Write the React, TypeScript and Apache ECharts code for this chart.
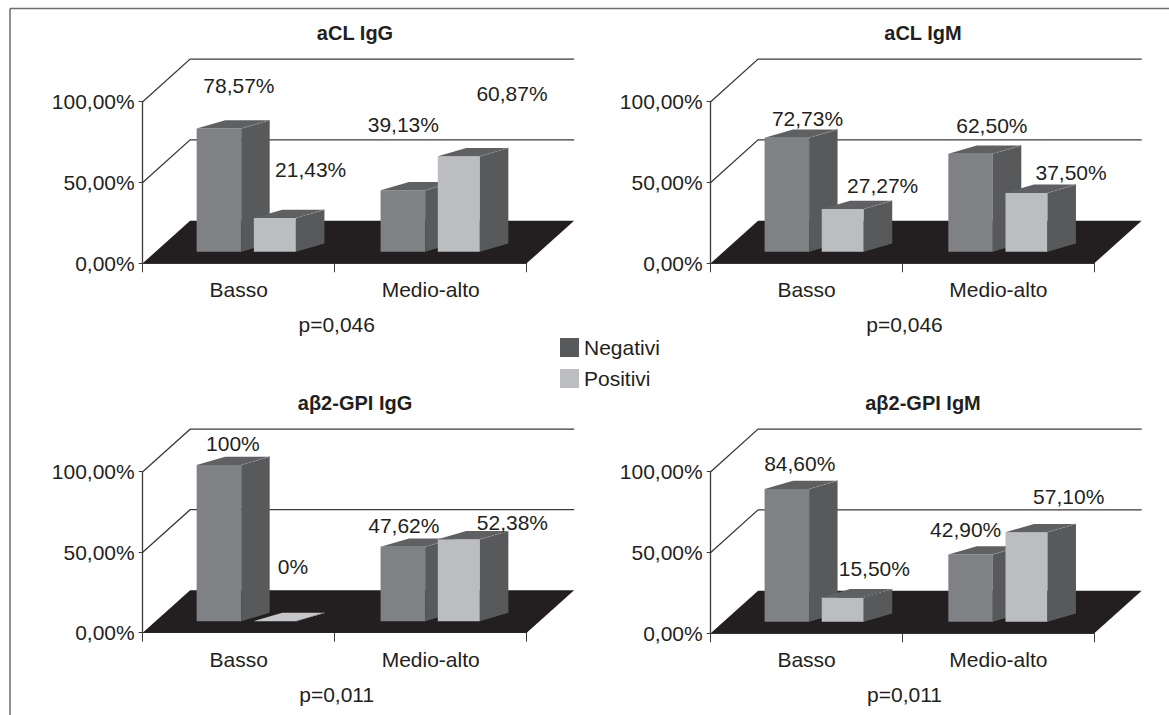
import React, { useEffect, useRef } from 'react';
import * as echarts from 'echarts';

// ---------- data ----------
const CATEGORIES = ['Basso', 'Medio-alto'];
const SERIES_NAMES = ['Negativi', 'Positivi'];
const PANEL_TITLES = ['aCL IgG', 'aCL IgM', 'aβ2-GPI IgG', 'aβ2-GPI IgM'];
const P_VALUES = ['p=0,046', 'p=0,046', 'p=0,011', 'p=0,011'];
const NEGATIVI = [
  [78.57, 39.13],
  [72.73, 62.5],
  [100, 47.62],
  [84.6, 42.9],
];
const POSITIVI = [
  [21.43, 60.87],
  [27.27, 37.5],
  [0, 52.38],
  [15.5, 57.1],
];
const Y_MIN = 0;
const Y_MAX = 100;
const Y_STEP = 50;

// ---------- layout / style ----------
const FONT = '"Liberation Sans", Arial, Helvetica, sans-serif';
const FS = 21;
const TEXT = '#231f20';
const AXIS = '#3a3a3a';
const FLOOR = '#231f20';
const FRONT = ['#808184', '#bcbdc0'];
const SIDE = '#58595b';
const TOPC = '#5f6062';
const LEGEND_COLORS = ['#58595b', '#bcbdc0'];

const PANELS = [
  { left: 142.7, top: 101.7, width: 384, height: 161.6 },
  { left: 710.7, top: 101.7, width: 383.6, height: 161.6 },
  { left: 142.7, top: 471.7, width: 384, height: 161 },
  { left: 710.7, top: 471.7, width: 383.6, height: 161.6 },
];

// label offsets [panel][series][category] = [dx, dy] from bar front-top centre
const LABEL_OFFSETS = [
  [[[20, -43.5], [0.5, -65.4]], [[35.8, -49.1], [53.2, -63]]],
  [[[20.7, -19.4], [21.3, -28.7]], [[39.9, -23.3], [44.6, -20.2]]],
  [[[14, -21.1], [1, -20.8]], [[18.1, -54.4], [53.6, -16.5]]],
  [[[12.9, -25.8], [-4.9, -24.5]], [[31.6, -29.1], [42.2, -35.5]]],
];

const PERSP = 0.958;
const BAR_OFF = [-0.198, 0.1];
const BAR_W = [0.232, 0.219];
const BASE_LIFT = 0.0718;
const HEIGHT_K = 0.97;
const DEPTH_X = 0.1484;
const DEPTH_Y = 0.0514;
const WALL_DX = 0.247;
const WALL_DY = 0.264;

const fmtLabel = (v: number) =>
  Number.isInteger(v) ? `${v}%` : `${v.toFixed(2).replace('.', ',')}%`;
const fmtAxis = (v: number) => `${v.toFixed(2).replace('.', ',')}%`;

function sceneRender(params: any, api: any) {
  const [c0, y0] = api.coord([0, Y_MIN]);
  const W = api.size([1, 0])[0];
  const x0 = c0 - W / 2;
  const x1 = x0 + W * CATEGORIES.length;
  const H = y0 - api.coord([0, Y_MAX])[1];
  const dx = WALL_DX * W;
  const dy = -WALL_DY * H;
  const children: any[] = [
    {
      type: 'polygon',
      shape: { points: [[x0, y0], [x1, y0], [x1 + dx, y0 + dy], [x0 + dx, y0 + dy]] },
      style: { fill: FLOOR },
    },
  ];
  for (let t = Y_MIN + Y_STEP; t <= Y_MAX; t += Y_STEP) {
    const yt = api.coord([0, t])[1];
    children.push({
      type: 'polyline',
      shape: { points: [[x0, yt], [x0 + dx, yt + dy], [x1 + dx, yt + dy]] },
      style: { stroke: AXIS, lineWidth: 1.3, fill: 'none' },
    });
  }
  return { type: 'group', children };
}

function makeBarRender(panel: number, s: number) {
  return (params: any, api: any) => {
    const cat = api.value(0);
    const v = api.value(1);
    const [xc, y0] = api.coord([cat, Y_MIN]);
    const yv = api.coord([cat, v])[1];
    const H = y0 - api.coord([cat, Y_MAX])[1];
    const W = api.size([1, 0])[0];
    const x0 = xc - W * (cat + 0.5);
    const xcP = x0 + (xc - x0) * PERSP;
    const left = xcP + BAR_OFF[s] * W;
    const w = BAR_W[s] * W;
    const base = y0 - BASE_LIFT * H;
    const top = base - (y0 - yv) * HEIGHT_K;
    const dx = DEPTH_X * W;
    const dy = -DEPTH_Y * H;
    const r = left + w;
    const off = LABEL_OFFSETS[panel][s][cat];
    const topFill = v > 0 ? TOPC : '#c6c7c9';
    return {
      type: 'group',
      children: [
        {
          type: 'polygon',
          shape: { points: [[left, top], [r, top], [r, base], [left, base]] },
          style: { fill: FRONT[s] },
        },
        {
          type: 'polygon',
          shape: { points: [[r, top], [r + dx, top + dy], [r + dx, base + dy], [r, base]] },
          style: { fill: SIDE },
        },
        {
          type: 'polygon',
          shape: { points: [[left, top], [left + dx, top + dy], [r + dx, top + dy], [r, top]] },
          style: { fill: topFill },
        },
        {
          type: 'line',
          shape: { x1: r, y1: top, x2: r + dx, y2: top + dy },
          style: { stroke: '#8e8f91', lineWidth: 1, lineDash: [2, 2] },
        },
        {
          type: 'text',
          style: {
            text: fmtLabel(v),
            x: left + w / 2 + off[0],
            y: top + off[1],
            fill: TEXT,
            font: `${FS}px ${FONT}`,
            align: 'center',
            verticalAlign: 'middle',
            textAlign: 'center',
            textVerticalAlign: 'middle',
          },
        },
      ],
    };
  };
}

function buildOption() {
  const series: any[] = [];
  PANELS.forEach((_, i) => {
    series.push({
      type: 'custom',
      xAxisIndex: i,
      yAxisIndex: i,
      data: [[0, 0]],
      renderItem: sceneRender,
      silent: true,
      clip: false,
      z: 1,
    });
    [NEGATIVI[i], POSITIVI[i]].forEach((vals, s) => {
      series.push({
        type: 'custom',
        name: SERIES_NAMES[s],
        xAxisIndex: i,
        yAxisIndex: i,
        data: vals.map((v, j) => [j, v]),
        encode: { x: 0, y: 1 },
        renderItem: makeBarRender(i, s),
        itemStyle: { color: LEGEND_COLORS[s] },
        silent: true,
        clip: false,
        z: 2,
      });
    });
  });

  const graphic: any[] = [
    { type: 'line', shape: { x1: 10, y1: 8.5, x2: 1169, y2: 8.5 }, style: { stroke: '#6d6e70', lineWidth: 1.5 } },
    { type: 'line', shape: { x1: 10, y1: 8.5, x2: 10, y2: 715 }, style: { stroke: '#6d6e70', lineWidth: 1.5 } },
  ];
  PANELS.forEach((p, i) => {
    graphic.push({
      type: 'text',
      x: p.left + 212.3,
      y: p.top - 69,
      style: {
        text: PANEL_TITLES[i],
        font: `bold 20px ${FONT}`,
        fill: TEXT,
        align: 'center',
        verticalAlign: 'middle',
        textAlign: 'center',
        textVerticalAlign: 'middle',
      },
    });
    graphic.push({
      type: 'text',
      x: p.left + p.width / 2 + 2,
      y: p.top + p.height + 61.5,
      style: {
        text: P_VALUES[i],
        font: `${FS}px ${FONT}`,
        fill: TEXT,
        align: 'center',
        verticalAlign: 'middle',
        textAlign: 'center',
        textVerticalAlign: 'middle',
      },
    });
  });

  return {
    animation: false,
    backgroundColor: '#ffffff',
    legend: {
      data: SERIES_NAMES,
      orient: 'vertical',
      left: 555,
      top: 332,
      itemWidth: 19,
      itemHeight: 19,
      itemGap: 10,
      icon: 'rect',
      selectedMode: false,
      textStyle: { fontSize: FS, color: TEXT, fontFamily: FONT },
    },
    grid: PANELS.map((p) => ({ left: p.left, top: p.top, width: p.width, height: p.height })),
    xAxis: PANELS.map((_, i) => ({
      type: 'category',
      gridIndex: i,
      data: CATEGORIES,
      boundaryGap: true,
      axisLine: { show: true, lineStyle: { color: AXIS, width: 1 } },
      axisTick: { show: true, length: 9, interval: 0, lineStyle: { color: AXIS } },
      axisLabel: { margin: 16, fontSize: FS, color: TEXT, fontFamily: FONT, interval: 0 },
      splitLine: { show: false },
    })),
    yAxis: PANELS.map((_, i) => ({
      type: 'value',
      gridIndex: i,
      min: Y_MIN,
      max: Y_MAX,
      interval: Y_STEP,
      axisLine: { show: true, lineStyle: { color: AXIS, width: 1.3 } },
      axisTick: { show: true, length: 4, lineStyle: { color: AXIS } },
      axisLabel: { margin: 8, fontSize: FS, color: TEXT, fontFamily: FONT, formatter: fmtAxis },
      splitLine: { show: false },
    })),
    graphic,
    series,
  };
}

export default function App() {
  const ref = useRef<HTMLDivElement>(null);
  useEffect(() => {
    document.body.style.margin = '0';
    const chart = echarts.init(ref.current as HTMLDivElement, null, { renderer: 'svg' });
    chart.setOption(buildOption());
    return () => chart.dispose();
  }, []);
  return <div ref={ref} style={{ width: 1169, height: 715, background: '#fff' }} />;
}
